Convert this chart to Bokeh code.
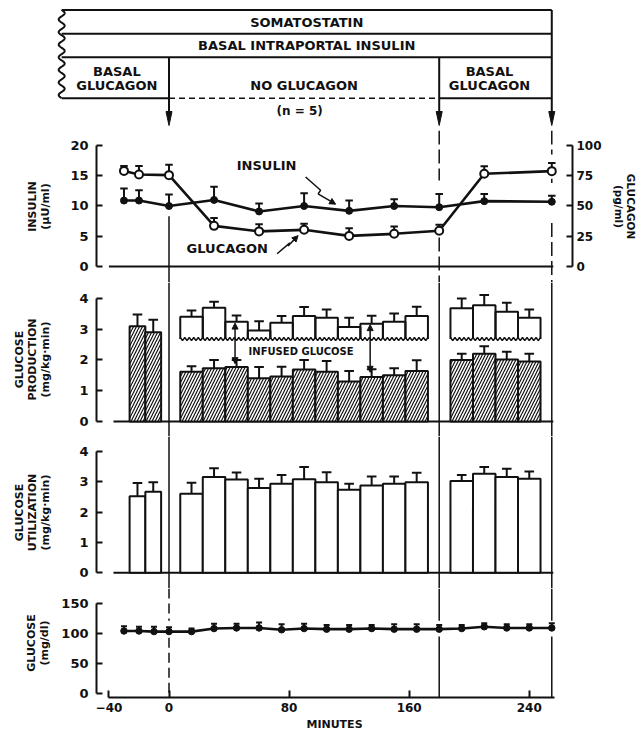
import numpy as np
from bokeh.plotting import figure
from bokeh.layouts import column
from bokeh.models import Range1d, LinearAxis, FixedTicker, Span, Arrow, NormalHead
from bokeh.core.properties import value
from bokeh.embed import file_html
from bokeh.resources import INLINE

FONT = "DejaVu Sans"
INK = "#111111"

# ---------------- data ----------------
phase_edges = [0, 180, 255]   # glucagon withdrawn, glucagon restored, end of study (min)

# plasma insulin (uU/ml) and glucagon (pg/ml)
hormone_t = [-30, -20, 0, 30, 60, 90, 120, 150, 180, 210, 255]
insulin = [10.9, 10.9, 10.0, 11.0, 9.1, 10.0, 9.2, 10.0, 9.8, 10.8, 10.7]
insulin_sem = [2.0, 1.7, 1.9, 2.2, 1.3, 2.1, 1.7, 1.1, 2.2, 1.2, 1.0]
glucagon = [79.0, 76.0, 75.5, 33.6, 29.0, 30.3, 25.3, 27.0, 29.5, 76.6, 78.8]
glucagon_sem = [4.0, 7.0, 8.5, 6.4, 6.0, 5.0, 6.4, 6.0, 5.0, 6.3, 6.8]

# glucose production / utilization (mg/kg.min), bar centres (min)
bar_t = [-21, -10.5, 15, 30, 45, 60, 75, 90, 105, 120, 135, 150, 165, 195, 210, 225, 240]
production = [3.10, 2.90, 1.62, 1.73, 1.77, 1.41, 1.46, 1.69, 1.62, 1.30, 1.45, 1.50, 1.64,
              2.00, 2.20, 2.02, 1.95]
production_sem = [0.38, 0.41, 0.18, 0.27, 0.23, 0.36, 0.32, 0.31, 0.35, 0.34, 0.25, 0.23, 0.35,
                  0.20, 0.25, 0.25, 0.25]
# production + infused glucose (periods after time 0)
total_t = [15, 30, 45, 60, 75, 90, 105, 120, 135, 150, 165, 195, 210, 225, 240]
total_supply = [3.41, 3.70, 3.24, 2.96, 3.21, 3.43, 3.37, 3.07, 3.18, 3.24, 3.43,
                3.68, 3.78, 3.57, 3.37]
total_supply_sem = [0.20, 0.19, 0.21, 0.30, 0.22, 0.29, 0.27, 0.30, 0.26, 0.27, 0.30,
                    0.32, 0.33, 0.29, 0.27]
utilization = [2.52, 2.67, 2.60, 3.15, 3.07, 2.79, 2.93, 3.08, 2.98, 2.73, 2.87, 2.93, 2.98,
               3.02, 3.26, 3.15, 3.09]
utilization_sem = [0.43, 0.31, 0.36, 0.29, 0.23, 0.30, 0.29, 0.40, 0.33, 0.20, 0.30, 0.24, 0.31,
                   0.20, 0.22, 0.27, 0.24]

# plasma glucose (mg/dl)
glucose_t = [-30, -20, -10, 0, 15, 30, 45, 60, 75, 90, 105, 120, 135, 150, 165, 180, 195, 210,
             225, 240, 255]
glucose = [104, 104, 103, 103, 103, 108, 109, 109, 106, 108, 107, 107, 108, 107, 107, 107, 108,
           111, 109, 109, 109]
glucose_sem = [8, 7, 8, 7, 5, 8, 7, 9, 9, 8, 7, 7, 6, 8, 8, 7, 6, 6, 6, 6, 8]

insulin_ticks = [0, 5, 10, 15, 20]
glucagon_ticks = [0, 25, 50, 75, 100]
rate_ticks = [0, 1, 2, 3, 4]
glucose_ticks = [0, 50, 100, 150]
minute_ticks = [-40, 0, 80, 160, 240]

# ---------------- helpers ----------------
X_RANGE = (-48.3, 268.8)
LEFT, RIGHT, FW = 96, 62, 476


def panel(frame_h, y_lo, y_hi, bottom=0, x_axis=False):
    p = figure(frame_width=FW, frame_height=frame_h,
               x_range=Range1d(*X_RANGE), y_range=Range1d(y_lo, y_hi),
               output_backend="svg", toolbar_location=None,
               x_axis_location="below" if x_axis else None,
               min_border_left=LEFT, min_border_right=RIGHT,
               min_border_top=0, min_border_bottom=bottom)
    p.grid.visible = False
    p.outline_line_color = None
    p.background_fill_color = "white"
    p.border_fill_color = "white"
    return p


def style_axis(ax, ticks, label, standoff, label_standoff, tick_size="13px", label_size="11px"):
    ax.ticker = FixedTicker(ticks=ticks)
    ax.bounds = (ticks[0], ticks[-1])
    ax.axis_line_width = 2
    ax.axis_line_color = INK
    ax.major_tick_line_width = 2
    ax.major_tick_line_color = INK
    ax.major_tick_in = 6
    ax.major_tick_out = 0
    ax.minor_tick_line_color = None
    ax.major_label_text_font = FONT
    ax.major_label_text_font_style = "bold"
    ax.major_label_text_font_size = tick_size
    ax.major_label_text_color = INK
    ax.major_label_standoff = standoff
    ax.axis_label = label
    ax.axis_label_text_font = FONT
    ax.axis_label_text_font_style = "bold"
    ax.axis_label_text_font_size = label_size
    ax.axis_label_text_line_height = 1.0
    ax.axis_label_text_color = INK
    ax.axis_label_standoff = label_standoff


def error_bars(p, t, y, e, cap, **kw):
    t = np.asarray(t, float)
    y = np.asarray(y, float)
    top = y + np.asarray(e, float)
    p.segment(t, y, t, top, line_color=INK, line_width=2, **kw)
    p.segment(t - cap, top, t + cap, top, line_color=INK, line_width=2, **kw)


def bar_edges(t):
    t = np.asarray(t, float)
    w = np.where(t < 0, 10.5, 15.0)
    return t - w / 2, t + w / 2


def text(p, x, y, s, size, align="center", **kw):
    p.text(x=[x], y=[y], text=[s], text_align=align, text_baseline="middle",
           text_font=value(FONT), text_font_style="bold", text_font_size=size,
           text_color=INK, **kw)

# ---------------- header schematic ----------------
hdr = figure(frame_width=522, frame_height=122,
             x_range=Range1d(X_RANGE[0] - 46 / (FW / (X_RANGE[1] - X_RANGE[0])), X_RANGE[1]),
             y_range=Range1d(130, 8), output_backend="svg", toolbar_location=None,
             x_axis_location=None, y_axis_location=None,
             min_border_left=LEFT - 46, min_border_right=RIGHT, min_border_top=8,
             min_border_bottom=0)
hdr.frame_align = False
hdr.grid.visible = False
hdr.outline_line_color = None
rows = [9.5, 33.3, 56.7, 97.7]
wave_x0 = -71.5
yy = np.linspace(rows[0], rows[-1], 200)
hdr.line(wave_x0 + 2.0 * np.sin(2 * np.pi * (yy - rows[0]) / 12.6), yy, line_color=INK, line_width=2)
end = phase_edges[2]
for r in rows[:3]:
    hdr.line([wave_x0, end], [r, r], line_color=INK, line_width=2)
hdr.line([wave_x0, phase_edges[0]], [rows[3], rows[3]], line_color=INK, line_width=2)
hdr.line([phase_edges[0], phase_edges[1]], [rows[3], rows[3]], line_color=INK, line_width=1.6,
         line_dash="6 4")
hdr.line([phase_edges[1], end], [rows[3], rows[3]], line_color=INK, line_width=2)
tip, base = 125, 111
for b in phase_edges:
    y_start = rows[0] if b == end else rows[2]
    hdr.line([b, b], [y_start, base], line_color=INK, line_width=2)
hdr.patches([[b - 2.0, b + 2.0, b] for b in phase_edges],
            [[base, base, tip] for _ in phase_edges], fill_color=INK, line_color=INK)
mid_all = (wave_x0 + end) / 2
text(hdr, mid_all, 21.5, "SOMATOSTATIN", "13px")
text(hdr, mid_all, 45.2, "BASAL INTRAPORTAL INSULIN", "13px")
left_mid = (wave_x0 + phase_edges[0]) / 2 + 1
right_mid = (phase_edges[1] + end) / 2 - 4
text(hdr, left_mid, 70.5, "BASAL", "13px")
text(hdr, left_mid, 85, "GLUCAGON", "13px")
text(hdr, right_mid, 70.5, "BASAL", "13px")
text(hdr, right_mid, 85, "GLUCAGON", "13px")
text(hdr, (phase_edges[0] + phase_edges[1]) / 2, 85, "NO GLUCAGON", "13px")
text(hdr, (phase_edges[0] + phase_edges[1]) / 2 - 3, 110, "(n = 5)", "12px")

# ---------------- insulin / glucagon ----------------
pi = panel(152, -2.645, 22.479)
pi.extra_y_ranges = {"glucagon": Range1d(-2.645 * 5, 22.479 * 5)}
style_axis(pi.yaxis[0], insulin_ticks, "INSULIN\n(\u03bcU/ml)", 8, 15)
rax = LinearAxis(y_range_name="glucagon")
style_axis(rax, glucagon_ticks, "GLUCAGON\n(pg/ml)", 4, 8, tick_size="12px", label_size="10.5px")
pi.add_layout(rax, "right")
pi.segment([-40], [0], [256], [0], line_color=INK, line_width=2)
# vertical markers (broken around the curves)
pi.segment([0], [8.3], [0], [-2.645], line_color=INK, line_width=1.5)
pi.segment([180, 180], [22.479, 4.8], [180, 180], [14.2, -2.645], line_color=INK,
           line_width=1.5, line_dash="14 5")
pi.segment([255, 255], [22.479, 7.2], [255, 255], [18.5, -2.645], line_color=INK,
           line_width=1.5, line_dash="14 5")
pi.segment([255], [14.5], [255], [13.8], line_color=INK, line_width=1.5)
error_bars(pi, hormone_t, insulin, insulin_sem, 2.5)
error_bars(pi, hormone_t, glucagon, glucagon_sem, 2.5, y_range_name="glucagon")
pi.line(hormone_t, insulin, line_color=INK, line_width=2.6)
pi.line(hormone_t, glucagon, line_color=INK, line_width=2.6, y_range_name="glucagon")
pi.scatter(hormone_t, insulin, marker="circle", size=7, fill_color=INK, line_color=INK)
pi.scatter(hormone_t, glucagon, marker="circle", size=8, fill_color="white", line_color=INK,
           line_width=2, y_range_name="glucagon")
text(pi, 65, 16.7, "INSULIN", "13px")
text(pi, 38.8, 2.9, "GLUCAGON", "13px")
bolt_ins_x, bolt_ins_y = [91, 101, 99.3, 111], [14.8, 12.6, 12.0, 10.3]
bolt_glu_x, bolt_glu_y = [72, 80.5, 79.3, 86], [2.1, 3.9, 3.4, 5.1]
for bx, by in ((bolt_ins_x, bolt_ins_y), (bolt_glu_x, bolt_glu_y)):
    pi.line(bx[:-1], by[:-1], line_color=INK, line_width=1.5)
    pi.add_layout(Arrow(x_start=bx[-2], y_start=by[-2], x_end=bx[-1], y_end=by[-1],
                        line_color=INK, line_width=1.5,
                        end=NormalHead(size=6, fill_color=INK, line_color=INK)))

# ---------------- glucose production ----------------
pp = panel(154, -0.488, 4.520)
style_axis(pp.yaxis[0], rate_ticks, "GLUCOSE\nPRODUCTION\n(mg/kg\u00b7min)", 8, 24)
pp.segment([-37], [0], [256], [0], line_color=INK, line_width=2)
for b in phase_edges:
    pp.add_layout(Span(location=b, dimension="height", line_color=INK, line_width=1.5))
l, r = bar_edges(bar_t)
pp.quad(left=l, right=r, bottom=0, top=production, fill_color="white", line_color=INK,
        line_width=2, hatch_pattern="/", hatch_color=INK, hatch_scale=6, hatch_weight=1.2)
error_bars(pp, bar_t, production, production_sem, 3.2)
tl, tr = bar_edges(total_t)
box_base = 2.68
pp.quad(left=tl, right=tr, bottom=box_base, top=total_supply, fill_color="white",
        line_color=None)
pp.multi_line([[a, a, b, b] for a, b in zip(tl, tr)],
              [[box_base, t, t, box_base] for t in total_supply], line_color=INK, line_width=2)
for g0, g1 in ((tl[0], tr[10]), (tl[11], tr[-1])):
    zx = np.arange(g0, g1 + 0.01, 1.5)
    zy = box_base + np.where(np.arange(len(zx)) % 2 == 0, 0.05, -0.05)
    pp.line(zx, zy, line_color=INK, line_width=1.5)
error_bars(pp, total_t, total_supply, total_supply_sem, 3.2)
for ax_x, y0, y1 in ((44, 1.88, 3.2), (134, 1.6, 3.15)):
    pp.add_layout(Arrow(x_start=ax_x, y_start=y0, x_end=ax_x, y_end=y1, line_color=INK,
                        line_width=1.5,
                        start=NormalHead(size=6, fill_color=INK, line_color=INK),
                        end=NormalHead(size=6, fill_color=INK, line_color=INK)))
text(pp, 88, 2.27, "INFUSED GLUCOSE", "10px")

# ---------------- glucose utilization ----------------
pu = panel(152, -0.5164, 4.4836)
style_axis(pu.yaxis[0], rate_ticks, "GLUCOSE\nUTILIZATION\n(mg/kg\u00b7min)", 8, 24)
pu.segment([-37], [0], [256], [0], line_color=INK, line_width=2)
for b in phase_edges:
    pu.add_layout(Span(location=b, dimension="height", line_color=INK, line_width=1.5))
pu.quad(left=l, right=r, bottom=0, top=utilization, fill_color="white", line_color=INK,
        line_width=2)
error_bars(pu, bar_t, utilization, utilization_sem, 3.2)

# ---------------- plasma glucose ----------------
pg = panel(109, -6.13, 174.34, bottom=34, x_axis=True)
style_axis(pg.yaxis[0], glucose_ticks, "GLUCOSE\n(mg/dl)", 8, 7)
xa = pg.xaxis[0]
style_axis(xa, minute_ticks, "MINUTES", 5, 3, tick_size="12px")
xa.bounds = (-40, 257)
xa.major_tick_in = 7
pg.segment([0, 0], [174.34, 93], [0, 0], [121, -6.13], line_color=INK, line_width=1.5,
           line_dash="10 5")
pg.segment([180, 180, 255, 255], [174.34, 95, 174.34, 95], [180, 180, 255, 255],
           [121, -6.13, 121, -6.13], line_color=INK, line_width=1.5)
error_bars(pg, glucose_t, glucose, glucose_sem, 2.0)
pg.line(glucose_t, glucose, line_color=INK, line_width=2.6)
pg.scatter(glucose_t, glucose, marker="circle", size=6.5, fill_color=INK, line_color=INK)

layout = column(hdr, pi, pp, pu, pg, spacing=0)
open("out.html", "w").write(file_html(layout, INLINE))
